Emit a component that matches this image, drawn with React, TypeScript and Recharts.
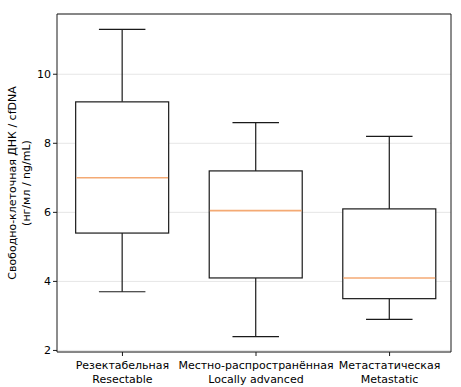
import { Bar, CartesianGrid, ComposedChart, ReferenceArea, XAxis, YAxis } from "recharts";

const labelsRu = ["Резектабельная", "Местно-распространённая", "Метастатическая"];
const labelsEn = ["Resectable", "Locally advanced", "Metastatic"];
const positions = [1, 2, 3];
const whiskerLow = [3.7, 2.4, 2.9];
const q1 = [5.4, 4.1, 3.5];
const medians = [7.0, 6.05, 4.1];
const q3 = [9.2, 7.2, 6.1];
const whiskerHigh = [11.3, 8.6, 8.2];
const yTicks = [2, 4, 6, 8, 10];

const X_DOMAIN: [number, number] = [0.51, 3.46];
const Y_DOMAIN: [number, number] = [1.955, 11.745];

const FONT = "'DejaVu Sans', sans-serif";
const INK = "#1a1a1a";
const TEXT = "#000";

const data = positions.map((pos, i) => ({
  pos,
  range: [whiskerLow[i], whiskerHigh[i]],
  q1: q1[i],
  median: medians[i],
  q3: q3[i],
}));

function BoxShape(props: any) {
  const { x, y, width, height, payload } = props;
  const [lo, hi] = payload.range;
  const unit = height / (hi - lo);
  const py = (v: number) => y + (hi - v) * unit;
  const cx = x + width / 2;
  const cap = width / 4;
  return (
    <g>
      <line x1={cx} x2={cx} y1={py(hi)} y2={py(payload.q3)} stroke={INK} strokeWidth={1.2} />
      <line x1={cx} x2={cx} y1={py(payload.q1)} y2={py(lo)} stroke={INK} strokeWidth={1.2} />
      <line x1={cx - cap} x2={cx + cap} y1={py(hi)} y2={py(hi)} stroke={INK} strokeWidth={1.2} />
      <line x1={cx - cap} x2={cx + cap} y1={py(lo)} y2={py(lo)} stroke={INK} strokeWidth={1.2} />
      <rect
        x={x}
        y={py(payload.q3)}
        width={width}
        height={py(payload.q1) - py(payload.q3)}
        fill="#ffffff"
        stroke={INK}
        strokeWidth={1.2}
      />
      <line x1={x + 0.6} x2={x + width - 0.6} y1={py(payload.median)} y2={py(payload.median)} stroke="#f4aa74" strokeWidth={1.6} />
    </g>
  );
}

function CategoryTick({ x, y, payload }: any) {
  const i = positions.indexOf(payload.value);
  return (
    <text x={x} y={y} textAnchor="middle" fontFamily={FONT} fontSize={11} fill={TEXT}>
      <tspan x={x} dy={11}>{labelsRu[i]}</tspan>
      <tspan x={x} dy={13.5}>{labelsEn[i]}</tspan>
    </text>
  );
}

function YLabel({ viewBox }: any) {
  const cy = viewBox.y + viewBox.height / 2;
  return (
    <g fontFamily={FONT} fontSize={11} fill={TEXT}>
      <text x={12} y={cy} textAnchor="middle" dominantBaseline="central" transform={`rotate(-90 12 ${cy})`}>
        Свободно-клеточная ДНК / cfDNA
      </text>
      <text x={26} y={cy} textAnchor="middle" dominantBaseline="central" transform={`rotate(-90 26 ${cy})`}>
        (нг/мл / ng/mL)
      </text>
    </g>
  );
}

export default function App() {
  return (
    <div style={{ position: "absolute", left: 0, top: 0, background: "#fff" }}>
      <ComposedChart width={461} height={387} data={data} margin={{ top: 14, right: 10, bottom: 0, left: 0 }}>
        <CartesianGrid vertical={false} stroke="#e6e6e6" strokeWidth={1} />
        <XAxis
          dataKey="pos"
          type="number"
          domain={X_DOMAIN}
          ticks={positions}
          axisLine={false}
          tickLine={{ stroke: INK }}
          tickSize={4}
          tick={<CategoryTick />}
          interval={0}
          height={35}
        />
        <YAxis
          type="number"
          domain={Y_DOMAIN}
          ticks={yTicks}
          allowDataOverflow
          axisLine={false}
          tickLine={{ stroke: INK }}
          tickSize={4}
          width={57}
          tick={{ fontFamily: FONT, fontSize: 11, fill: TEXT }}
          label={<YLabel />}
        />
        <Bar dataKey="range" barSize={93} shape={<BoxShape />} isAnimationActive={false} />
        <ReferenceArea
          x1={X_DOMAIN[0]}
          x2={X_DOMAIN[1]}
          y1={Y_DOMAIN[0]}
          y2={Y_DOMAIN[1]}
          fill="none"
          stroke={INK}
          strokeWidth={1}
          ifOverflow="visible"
        />
      </ComposedChart>
    </div>
  );
}
